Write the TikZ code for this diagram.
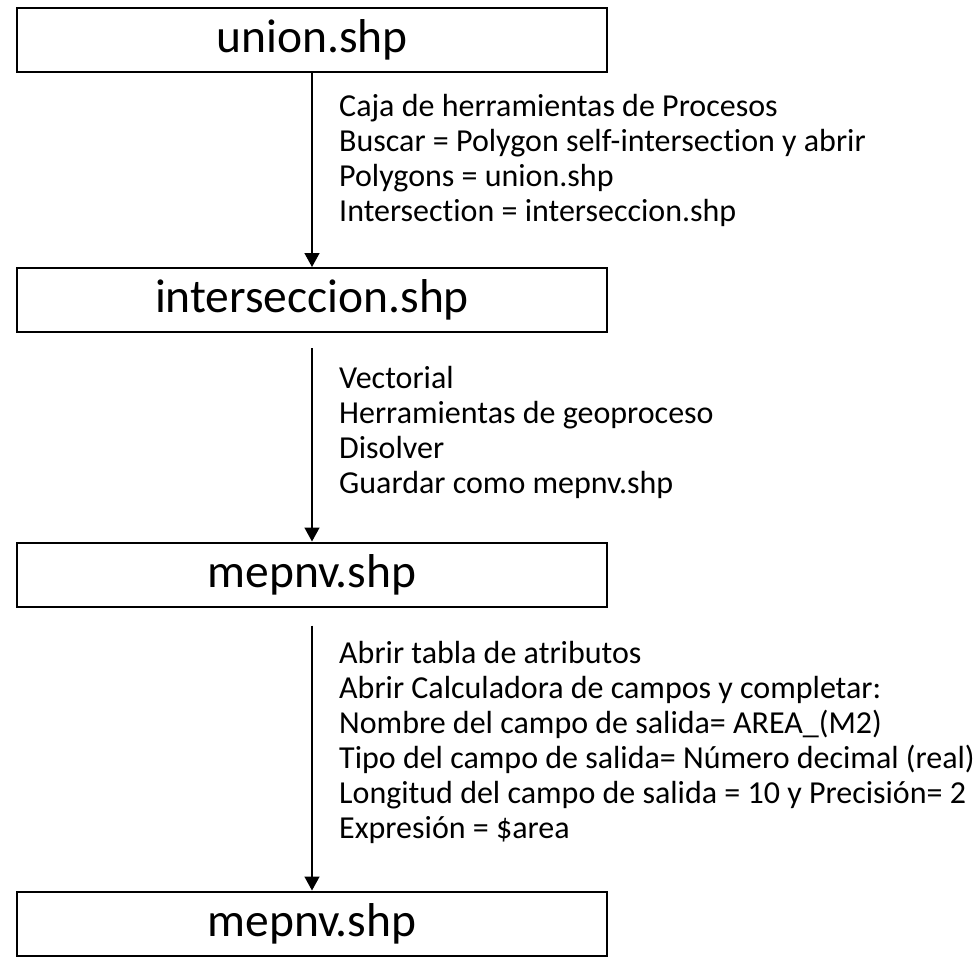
\documentclass[tikz,border=0pt]{standalone}
\usepackage{fontspec}
\setmainfont{Carlito}[Ligatures=NoCommon]
\usetikzlibrary{arrows.meta}
\begin{document}
\begin{tikzpicture}[x=1pt,y=-1pt,
  filebox/.style={draw, line width=2pt, minimum width=590pt, minimum height=64pt, inner sep=0pt, font=\fontsize{47.5}{50}\selectfont},
  flow/.style={line width=1.5pt, -{Triangle[width=15pt,length=14pt]}},
  steps/.style={anchor=base west, align=left, inner sep=0pt, font=\fontsize{32}{35}\selectfont}]
\useasboundingbox (0,0) rectangle (979,956);
\node[filebox] (b1) at (312,40) {union.shp};
\node[filebox] (b2) at (312,300) {interseccion.shp};
\node[filebox] (b3) at (312,574.5) {mepnv.shp};
\node[filebox] (b4) at (312,923.5) {mepnv.shp};
\draw[flow] (b1.south) -- (b2.north);
\draw[flow, shorten <=15pt] (b2.south) -- (b3.north);
\draw[flow, shorten <=18pt] (b3.south) -- (b4.north);
\node[steps] (t1) at (339,221) {Caja de herramientas de Procesos\\Buscar = Polygon self-intersection y abrir\\Polygons = union.shp\\Intersection = interseccion.shp};
\node[steps] (t2) at (339,493) {Vectorial\\Herramientas de geoproceso\\Disolver\\Guardar como mepnv.shp};
\node[steps] (t3) at (339,838) {Abrir tabla de atributos\\Abrir Calculadora de campos y completar:\\Nombre del campo de salida= AREA\_(M2)\\Tipo del campo de salida= Número decimal (real)\\Longitud del campo de salida = 10 y Precisión= 2\\Expresión = \$area};
\end{tikzpicture}
\end{document}
